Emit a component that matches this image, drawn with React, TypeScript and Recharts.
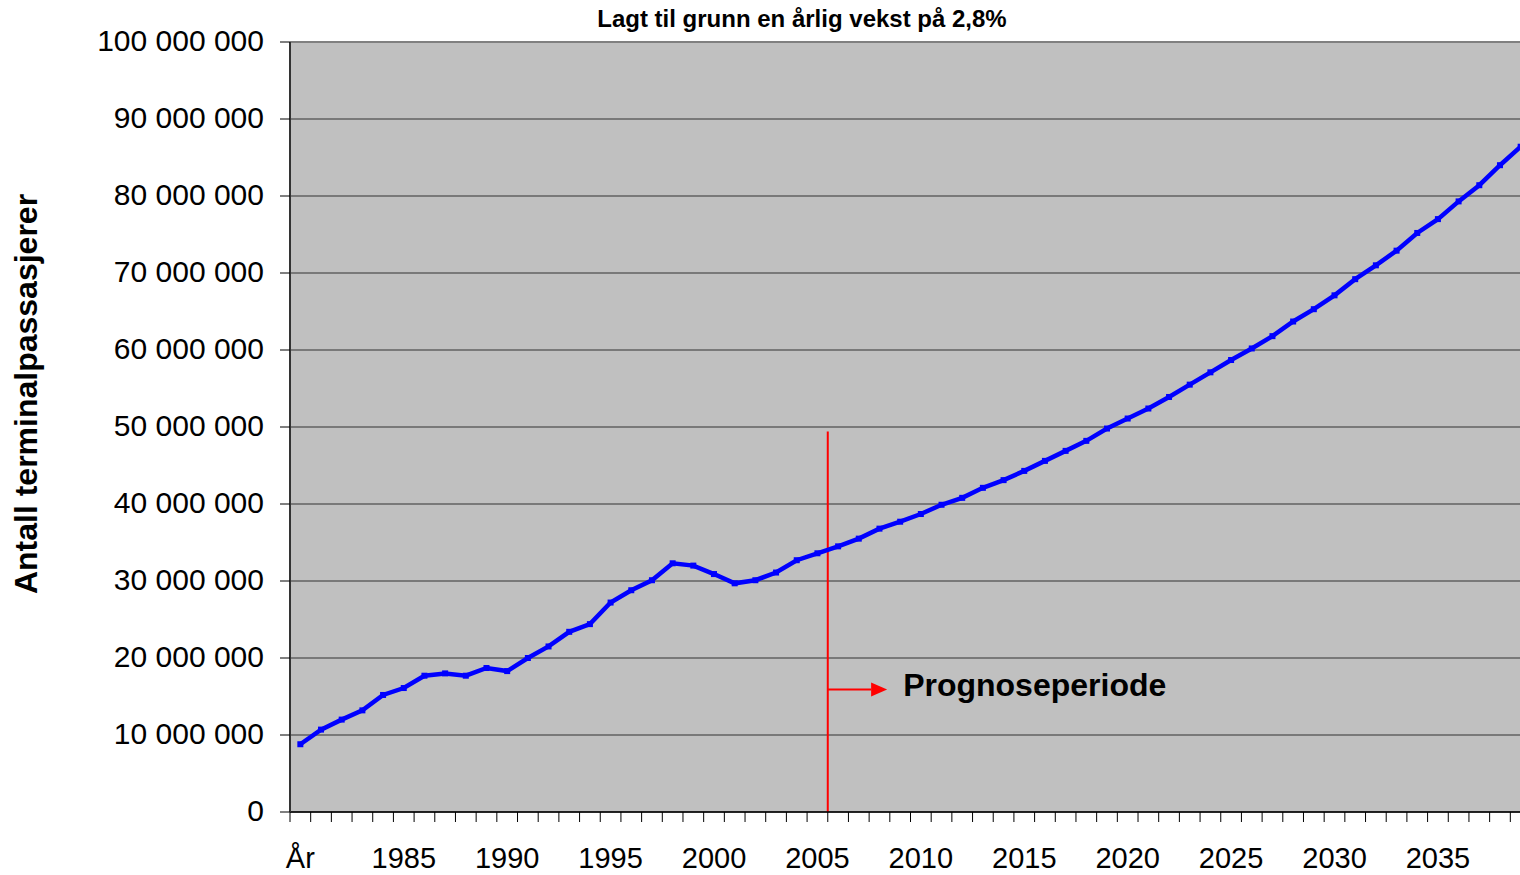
import React from 'react';
import { LineChart, Line, XAxis, YAxis, CartesianGrid, ReferenceLine } from 'recharts';

const yearLabels = [
  'År', '1981', '1982', '1983', '1984', '1985', '1986', '1987', '1988', '1989',
  '1990', '1991', '1992', '1993', '1994', '1995', '1996', '1997', '1998', '1999',
  '2000', '2001', '2002', '2003', '2004', '2005', '2006', '2007', '2008', '2009',
  '2010', '2011', '2012', '2013', '2014', '2015', '2016', '2017', '2018', '2019',
  '2020', '2021', '2022', '2023', '2024', '2025', '2026', '2027', '2028', '2029',
  '2030', '2031', '2032', '2033', '2034', '2035', '2036', '2037', '2038', '2039',
];

// Terminal passengers, millions
const passengersMillions = [
  8.8, 10.7, 12.0, 13.2, 15.2, 16.1, 17.7, 18.0, 17.7, 18.7,
  18.3, 20.0, 21.5, 23.4, 24.4, 27.2, 28.8, 30.1, 32.3, 32.0,
  30.9, 29.7, 30.1, 31.1, 32.7, 33.6, 34.5, 35.5, 36.8, 37.7,
  38.7, 39.9, 40.8, 42.1, 43.1, 44.3, 45.6, 46.9, 48.2, 49.8,
  51.1, 52.4, 53.9, 55.5, 57.1, 58.7, 60.2, 61.8, 63.7, 65.3,
  67.1, 69.2, 71.0, 72.9, 75.2, 77.0, 79.3, 81.4, 84.0, 86.4,
];

const yTicks = [0, 10e6, 20e6, 30e6, 40e6, 50e6, 60e6, 70e6, 80e6, 90e6, 100e6];
const labelEvery = 5;

// Annotation (in data units)
const forecastBoundaryIdx = 25.5;
const forecastLineTop = 49.4e6;
const arrowValue = 15.9e6;
const arrowEndIdx = 28.37;
const forecastText = 'Prognoseperiode';
const titleText = 'Lagt til grunn en årlig vekst på 2,8%';
const yAxisTitle = 'Antall terminalpassasjerer';

const data = passengersMillions.map((v, i) => ({ idx: i, label: yearLabels[i], value: v * 1e6 }));
const boundaryTicks = yearLabels.map((_, i) => i - 0.5).concat([yearLabels.length - 0.5]);

const FONT = '"Liberation Sans", Arial, Helvetica, sans-serif';

const CHART_W = 1540;
const CHART_H = 875;
const MARGIN = { top: 42, right: 9, bottom: 0, left: 0 };
const Y_AXIS_W = 290;
const PLOT_W = CHART_W - MARGIN.left - MARGIN.right - Y_AXIS_W;
const BAND = PLOT_W / yearLabels.length;

const fmt = (v: number) => String(Math.round(v)).replace(/\B(?=(\d{3})+(?!\d))/g, ' ');

const XTick = (props: any) => {
  const { x, y, payload } = props;
  const center = payload.value + 0.5;
  const i = Math.round(center);
  if (i < 0 || i >= yearLabels.length || i % labelEvery !== 0) return <g />;
  return (
    <text x={x + BAND / 2} y={y} dy="0.71em" textAnchor="middle" fill="#000" fontSize={29} fontFamily={FONT}>
      {yearLabels[i]}
    </text>
  );
};

const YTick = (props: any) => {
  const { x, y, payload } = props;
  return (
    <text x={x} y={y - 2} dy="0.355em" textAnchor="end" fill="#000" fontSize={30} fontFamily={FONT}>
      {fmt(payload.value)}
    </text>
  );
};

const Dot = (props: any) => {
  const { cx, cy, index } = props;
  if (cx == null || cy == null) return <g key={index} />;
  return <rect key={index} x={cx - 3} y={cy - 3} width={6} height={6} fill="#0000FF" />;
};

const ArrowShape = (props: any) => {
  const { x1, y1, x2 } = props;
  const head = 16;
  return (
    <g>
      <line x1={x1} y1={y1} x2={x2 - head} y2={y1} stroke="#FF0000" strokeWidth={2} />
      <polygon points={`${x2 - head},${y1 - 7} ${x2},${y1} ${x2 - head},${y1 + 7}`} fill="#FF0000" />
      <text x={x2 + 16} y={y1 + 6} fontSize={32} fontWeight="bold" fontFamily={FONT} fill="#000">
        {forecastText}
      </text>
    </g>
  );
};

export default function App() {
  return (
    <div
      style={{
        position: 'fixed',
        left: 0,
        top: 0,
        width: 1520,
        height: 875,
        overflow: 'hidden',
        background: '#fff',
        fontFamily: FONT,
      }}
    >
      <LineChart width={CHART_W} height={CHART_H} data={data} margin={MARGIN}>
        <CartesianGrid horizontal vertical={false} stroke="#333333" fill="#C0C0C0" />
        <XAxis
          dataKey="idx"
          type="number"
          domain={[-0.5, yearLabels.length - 0.5]}
          ticks={boundaryTicks}
          interval={0}
          allowDecimals
          tick={<XTick />}
          tickSize={10}
          tickMargin={25}
          height={63}
          axisLine={{ stroke: '#000', strokeWidth: 1.5 }}
          tickLine={{ stroke: '#000' }}
        />
        <YAxis
          type="number"
          domain={[0, 100e6]}
          ticks={yTicks}
          interval={0}
          width={Y_AXIS_W}
          tick={<YTick />}
          tickSize={10}
          tickMargin={16}
          axisLine={{ stroke: '#333', strokeWidth: 2 }}
          tickLine={{ stroke: '#000' }}
        />
        <ReferenceLine y={100e6} stroke="#808080" strokeWidth={2} />
        <ReferenceLine
          segment={[{ x: forecastBoundaryIdx, y: forecastLineTop }, { x: forecastBoundaryIdx, y: 0 }]}
          stroke="#FF0000"
          strokeWidth={2}
        />
        <ReferenceLine
          segment={[{ x: forecastBoundaryIdx, y: arrowValue }, { x: arrowEndIdx, y: arrowValue }]}
          shape={ArrowShape}
        />
        <Line
          type="linear"
          dataKey="value"
          stroke="#0000FF"
          strokeWidth={4.5}
          dot={Dot}
          activeDot={false}
          isAnimationActive={false}
        />
      </LineChart>
      <div
        style={{
          position: 'absolute',
          left: 802,
          top: 6,
          transform: 'translateX(-50%)',
          whiteSpace: 'nowrap',
          fontSize: 24,
          lineHeight: '26px',
          fontWeight: 'bold',
        }}
      >
        {titleText}
      </div>
      <div
        style={{
          position: 'absolute',
          left: 26,
          top: 394,
          transform: 'translate(-50%, -50%) rotate(-90deg)',
          whiteSpace: 'nowrap',
          fontSize: 32,
          lineHeight: '34px',
          fontWeight: 'bold',
        }}
      >
        {yAxisTitle}
      </div>
    </div>
  );
}
